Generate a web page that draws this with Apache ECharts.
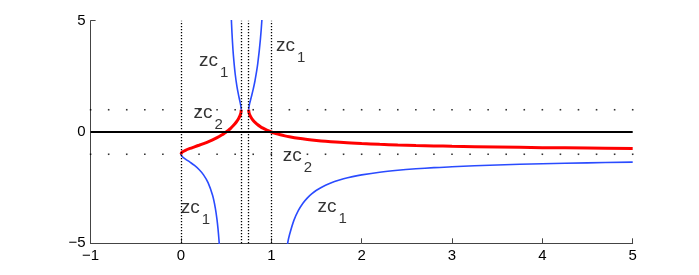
<!DOCTYPE html>
<html>
<head>
<meta charset="utf-8">
<script src="https://cdn.jsdelivr.net/npm/echarts@6/dist/echarts.min.js"></script>
<style>
html,body{margin:0;padding:0;background:#fff;}
#c{width:699px;height:275px;}
</style>
</head>
<body>
<div id="c"></div>
<script>
// ---- data ----
var xTicks = [-1, 0, 1, 2, 3, 4, 5];
var yTicks = [-5, 0, 5];

// red branch zc2 (left part, x from 0 to 2/3)
var redLeft = [
  [0,-1],[0.01,-0.920],[0.02,-0.888],[0.05,-0.821],[0.1,-0.739],[0.15,-0.666],
  [0.2,-0.594],[0.25,-0.519],[0.3,-0.440],[0.35,-0.351],[0.4,-0.252],[0.45,-0.137],
  [0.48,-0.058],[0.5,0],[0.52,0.063],[0.55,0.167],[0.58,0.289],[0.6,0.382],
  [0.62,0.490],[0.64,0.620],[0.65,0.702],[0.66,0.811],[0.665,0.904],[0.6667,1]
];
// red branch zc2 (right part, x from 3/4 to 5)
var redRight = [
  [0.75,1],[0.752,0.901],[0.76,0.783],[0.78,0.628],[0.8,0.519],[0.82,0.432],
  [0.85,0.326],[0.88,0.238],[0.9,0.188],[0.95,0.083],[1.0,0],[1.05,-0.068],
  [1.1,-0.125],[1.15,-0.174],[1.2,-0.215],[1.3,-0.284],[1.4,-0.338],[1.5,-0.382],
  [1.6,-0.418],[1.8,-0.476],[2,-0.519],[2.2,-0.554],[2.4,-0.582],[2.6,-0.605],
  [2.8,-0.625],[3,-0.642],[3.5,-0.676],[4,-0.702],[4.5,-0.722],[5,-0.739]
];
// blue branches zc1
var blueLowLeft = [
  [0,-1],[0.01,-1.086],[0.02,-1.126],[0.05,-1.218],[0.1,-1.354],[0.15,-1.503],
  [0.2,-1.684],[0.25,-1.925],[0.3,-2.275],[0.35,-2.845],[0.38,-3.409],[0.4,-3.970],
  [0.41,-4.344],[0.42,-4.809],[0.43,-5.407],[0.45,-7.318]
];
var blueUpLeft = [
  [0.54,7.652],[0.55,5.981],[0.56,4.865],[0.57,4.066],[0.58,3.465],[0.6,2.618],
  [0.62,2.043],[0.64,1.613],[0.65,1.425],[0.66,1.233],[0.665,1.107],[0.6667,1]
];
var blueUpRight = [
  [0.75,1],[0.752,1.110],[0.76,1.276],[0.78,1.593],[0.8,1.925],[0.82,2.313],
  [0.85,3.071],[0.88,4.194],[0.9,5.312],[0.92,6.984]
];
var blueLowRight = [
  [1.15,-5.758],[1.18,-5.014],[1.2,-4.642],[1.25,-3.970],[1.3,-3.522],[1.35,-3.200],
  [1.4,-2.958],[1.45,-2.770],[1.5,-2.618],[1.6,-2.390],[1.7,-2.225],[1.8,-2.101],
  [1.9,-2.004],[2,-1.925],[2.2,-1.806],[2.4,-1.719],[2.6,-1.653],[2.8,-1.601],
  [3,-1.558],[3.5,-1.480],[4,-1.425],[4.5,-1.385],[5,-1.354]
];

// dotted guide lines
var vLineX = [0, 0.6667, 0.75, 1];
var hLineY = [-1, 1];
var dotX = [-1,-0.8,-0.6,-0.4,-0.2,0,0.2,0.4,0.6,0.8,1,1.2,1.4,1.6,1.8,2,2.2,2.4,2.6,2.8,3,
            3.2,3.4,3.6,3.8,4,4.2,4.4,4.6,4.8,5];

// text labels
var labelX = [0.201, 1.053, 0.138, 1.126, -0.001, 1.511];
var labelY = [3.12, 3.80, 0.79, -1.12, -3.48, -3.41];
var labelMain = ['zc', 'zc', 'zc', 'zc', 'zc', 'zc'];
var labelSub = ['1', '1', '2', '2', '1', '1'];

// ---- chart ----
var FONT = '"Liberation Sans", Arial, Helvetica, sans-serif';
var BLUE = '#2a4bff';
var RED = '#ff0000';

var dots = [];
hLineY.forEach(function (y) { dotX.forEach(function (x) { dots.push([x, y]); }); });
var mainLabels = labelX.map(function (x, i) { return { value: [x, labelY[i]], txt: labelMain[i] }; });
var subLabels = labelX.map(function (x, i) { return { value: [x, labelY[i]], txt: labelSub[i] }; });

function fmt(v) { return v < 0 ? '\u2212' + (-v) : String(v); }

function lineSeries(data, color, width) {
  return {
    type: 'line', data: data, showSymbol: false, symbol: 'none', smooth: 0.35,
    lineStyle: { color: color, width: width }, clip: true, silent: true, z: 3
  };
}

function textSeries(data, size, offset) {
  return {
    type: 'scatter', data: data, symbolSize: 0, silent: true, z: 5,
    label: {
      show: true, position: 'right', distance: 0, offset: offset, color: '#000',
      fontSize: size, fontFamily: FONT,
      formatter: function (p) { return p.data.txt; }
    }
  };
}

var chart = echarts.init(document.getElementById('c'), null, { renderer: 'canvas' });
chart.setOption({
  animation: false,
  backgroundColor: '#ffffff',
  grid: { left: 90.6, right: 66.3, top: 20.7, bottom: 31.7, containLabel: false },
  xAxis: {
    type: 'value', min: xTicks[0], max: xTicks[xTicks.length - 1], interval: 1,
    axisLine: { onZero: false, lineStyle: { color: '#444', width: 1 } },
    axisTick: { inside: true, length: 5, lineStyle: { color: '#444' } },
    axisLabel: { color: '#000', fontSize: 15, fontFamily: FONT, margin: 5, formatter: fmt },
    splitLine: { show: false }
  },
  yAxis: {
    type: 'value', min: yTicks[0], max: yTicks[yTicks.length - 1], interval: 5,
    axisLine: { onZero: false, lineStyle: { color: '#444', width: 1 } },
    axisTick: { inside: true, length: 5, lineStyle: { color: '#444' } },
    axisLabel: { color: '#000', fontSize: 15, fontFamily: FONT, margin: 5, formatter: fmt },
    splitLine: { show: false }
  },
  series: [
    {
      type: 'line', data: [], silent: true, z: 1,
      markLine: {
        silent: true, symbol: 'none', label: { show: false }, animation: false,
        lineStyle: { color: '#000', width: 1.3, type: [1.3, 1.7] },
        data: vLineX.map(function (x) { return { xAxis: x }; })
      }
    },
    {
      type: 'line', data: [], silent: true, z: 2,
      markLine: {
        silent: true, symbol: 'none', label: { show: false }, animation: false,
        lineStyle: { color: '#000', width: 2, type: 'solid' },
        data: [{ yAxis: 0 }]
      }
    },
    {
      type: 'scatter', data: dots, symbol: 'rect', symbolSize: 1.6, silent: true, z: 2,
      itemStyle: { color: '#000' }
    },
    lineSeries(blueLowLeft, BLUE, 1.6),
    lineSeries(blueUpLeft, BLUE, 1.6),
    lineSeries(blueUpRight, BLUE, 1.6),
    lineSeries(blueLowRight, BLUE, 1.6),
    lineSeries(redLeft, RED, 3),
    lineSeries(redRight, RED, 3),
    textSeries(mainLabels, 19, [0, -1.5]),
    textSeries(subLabels, 15, [21, 10.5])
  ]
});
</script>
</body>
</html>
